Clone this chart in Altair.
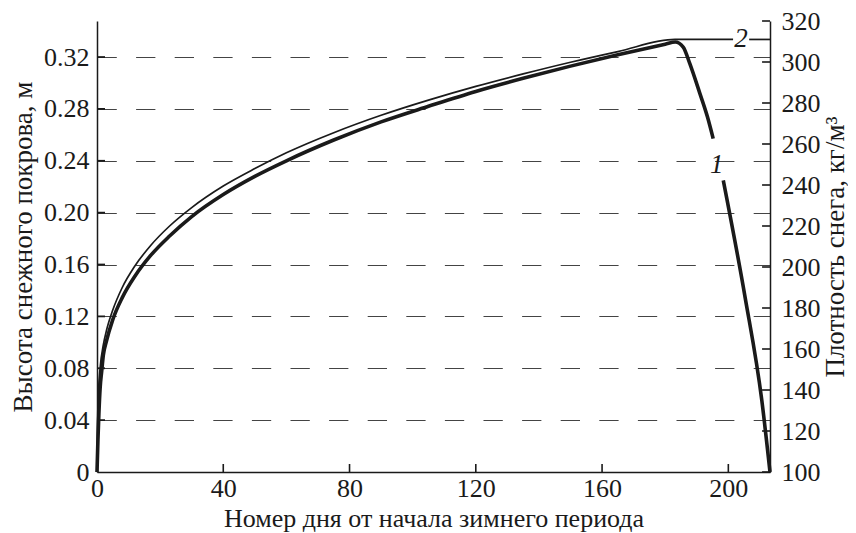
import altair as alt
import pandas as pd

# ---- data ----
# Curve 1: snow depth, m (left axis); split where the label "1" interrupts it
days1a = [0, 0.3, 0.6, 1.0, 1.5, 2, 3, 5, 8, 12, 17, 23, 30, 40, 50, 60, 75, 90,
          105, 120, 135, 150, 165, 180, 183.2, 185.7, 187.8, 191.0, 193.4, 195.2]
depth1a = [0, 0.025, 0.045, 0.065, 0.078, 0.090, 0.101, 0.1175, 0.1345, 0.151, 0.167,
           0.182, 0.197, 0.214, 0.228, 0.240, 0.256, 0.270, 0.282, 0.2935, 0.3036,
           0.313, 0.3217, 0.3299, 0.3316, 0.3277, 0.3149, 0.2918, 0.2737, 0.2571]
days1b = [198.4, 205.3, 210.6, 213.2]
depth1b = [0.2249, 0.1349, 0.0553, 0.0]

# Curve 2: snow density, kg/m3 (right axis); split where the label "2" interrupts it
days2a = [0, 0.2, 0.5, 1, 2, 3, 5, 8, 12, 17, 23, 30, 40, 50, 60, 75, 90, 105,
          120, 135, 150, 165, 183.1, 201.5]
dens2a = [100, 125, 140, 151, 162, 169, 179, 190, 200.5, 210.5, 220, 229, 239.5,
          248, 255.7, 265.5, 274, 281.4, 288.1, 294.2, 299.9, 305.1, 311, 311]
days2b = [206.6, 213.2]
dens2b = [311, 311]

x_ticks = [0, 40, 80, 120, 160, 200]
left_ticks = [0, 0.04, 0.08, 0.12, 0.16, 0.20, 0.24, 0.28, 0.32]
right_ticks = [100, 120, 140, 160, 180, 200, 220, 240, 260, 280, 300, 320]

label1 = {"day": [196.3], "value": [0.2365], "text": ["1"]}
label2 = {"day": [204.0], "value": [311], "text": ["2"]}

x_title = "Номер дня от начала зимнего периода"
left_title = "Высота снежного покрова, м"
right_title = "Плотность снега, кг/м³"

# ---- tables ----
c1 = pd.DataFrame({"day": days1a + days1b,
                   "value": depth1a + depth1b,
                   "seg": ["a"] * len(days1a) + ["b"] * len(days1b)})
c2 = pd.DataFrame({"day": days2a + days2b,
                   "value": dens2a + dens2b,
                   "seg": ["a"] * len(days2a) + ["b"] * len(days2b)})
xt = pd.DataFrame({"day": x_ticks[1:]})
lt = pd.DataFrame({"value": left_ticks[1:]})
rt = pd.DataFrame({"value": right_ticks})

W, H = 673, 451
FONT = "Liberation Serif"
INK = "#1a1a1a"
LBL = 26
TTL = 27

xs = alt.Scale(domain=[0, 213.2], nice=False, zero=False)
ls = alt.Scale(domain=[0, 0.3478], nice=False, zero=False)
rs = alt.Scale(domain=[100, 320], nice=False, zero=False)

x_axis = alt.Axis(values=x_ticks, title=x_title, grid=False, ticks=False, tickSize=0,
                  labelPadding=3, titlePadding=4, titleFontSize=26,
                  domainColor=INK, domainWidth=1.5, labelFlush=False, orient="bottom")
left_axis = alt.Axis(values=left_ticks, title=left_title, grid=True, ticks=False,
                     tickSize=0, gridDash=[19.3, 19.3], gridColor="#444",
                     gridWidth=1, labelPadding=8,
                     labelExpr="datum.value == 0 ? '0' : format(datum.value, '.2f')",
                     titlePadding=6, domainColor=INK, domainWidth=1.5, orient="left")
right_axis = alt.Axis(values=right_ticks, title=right_title, grid=False, ticks=False,
                      tickSize=0, labelPadding=11, titlePadding=2, titleAngle=270,
                      titleBaseline="top", domainColor=INK, domainWidth=1.5,
                      orient="right", format="d")

X = alt.X("day:Q", scale=xs, axis=x_axis, title=x_title)
YL = alt.Y("value:Q", scale=ls, axis=left_axis, title=left_title)
YR = alt.Y("value:Q", scale=rs, axis=right_axis, title=right_title)

line1 = alt.Chart(c1).mark_line(color=INK, strokeWidth=3.6, interpolate="monotone",
                                strokeCap="butt").encode(x=X, y=YL, detail="seg:N")
ticks_x = alt.Chart(xt).mark_rule(color=INK, strokeWidth=1.6).encode(
    x=X, y=alt.value(H - 8), y2=alt.value(H))
ticks_l = alt.Chart(lt).mark_rule(color=INK, strokeWidth=1.8).encode(
    y=YL, x=alt.value(0), x2=alt.value(8))
text1 = alt.Chart(pd.DataFrame(label1)).mark_text(
    font=FONT, fontSize=27, fontStyle="italic", color=INK, baseline="middle",
    align="center").encode(x=X, y=YL, text="text:N")
left_group = alt.layer(line1, ticks_x, ticks_l, text1)

line2 = alt.Chart(c2).mark_line(color=INK, strokeWidth=1.7, interpolate="monotone",
                                strokeCap="butt").encode(x=X, y=YR, detail="seg:N")
ticks_r = alt.Chart(rt).mark_rule(color=INK, strokeWidth=1.6).encode(
    y=YR, x=alt.value(W - 8), x2=alt.value(W))
text2 = alt.Chart(pd.DataFrame(label2)).mark_text(
    font=FONT, fontSize=27, fontStyle="italic", color=INK, baseline="middle",
    align="center").encode(x=X, y=YR, text="text:N")
right_group = alt.layer(line2, ticks_r, text2)

chart = alt.layer(left_group, right_group).resolve_scale(y="independent").properties(
    width=W, height=H,
    autosize=alt.AutoSizeParams(type="none"),
    padding={"left": 89, "top": 13, "right": 78, "bottom": 66},
    background="white",
).configure_view(stroke=None).configure_axis(
    labelFont=FONT, titleFont=FONT, labelFontSize=LBL, titleFontSize=TTL,
    labelColor=INK, titleColor=INK, titleFontWeight="normal",
)

chart.save("out.html", embed_options={"renderer": "svg", "actions": False})
